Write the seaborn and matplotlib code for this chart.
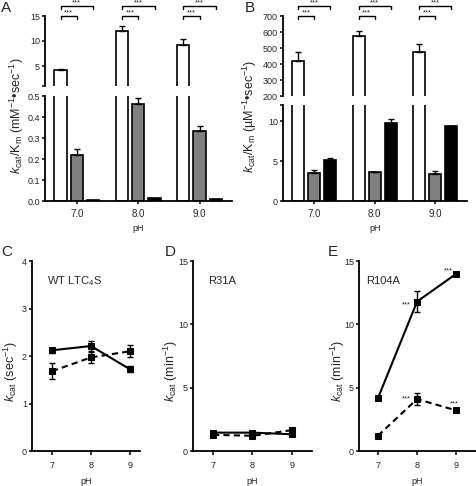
import numpy as np
import pandas as pd
import matplotlib
matplotlib.use("Agg")
import matplotlib.pyplot as plt
import seaborn as sns

# ---------------- data ----------------
ph_labels = ["7.0", "8.0", "9.0"]
enzymes = ["WT", "R31A", "R104A"]

A_wt = [4.1, 12.0, 9.25]
A_wt_err = [0.25, 1.0, 1.05]
A_r31a = [0.22, 0.46, 0.333]
A_r31a_err = [0.030, 0.032, 0.026]
A_r104a = [0.005, 0.016, 0.010]
A_r104a_err = [0.0, 0.0, 0.0]

B_wt = [420, 578, 478]
B_wt_err = [52, 30, 45]
B_r31a = [3.55, 3.63, 3.35]
B_r31a_err = [0.33, 0.05, 0.40]
B_r104a = [5.15, 9.7, 9.35]
B_r104a_err = [0.25, 0.6, 0.05]

ph = [7, 8, 9]
ph_ticks = ["7", "8", "9"]
C_solid = [2.12, 2.21, 1.72]
C_solid_err = [0.05, 0.11, 0.06]
C_dashed = [1.68, 1.97, 2.10]
C_dashed_err = [0.17, 0.12, 0.13]
D_solid = [1.45, 1.45, 1.32]
D_solid_err = [0.10, 0.10, 0.10]
D_dashed = [1.28, 1.20, 1.65]
D_dashed_err = [0.08, 0.08, 0.15]
E_solid = [4.15, 11.8, 14.0]
E_solid_err = [0.10, 0.80, 0.10]
E_dashed = [1.2, 4.1, 3.2]
E_dashed_err = [0.05, 0.45, 0.10]

# ---------------- style ----------------
sns.set_style("ticks")
plt.rcParams['font.family'] = ['Liberation Sans', 'DejaVu Sans']
plt.rcParams['mathtext.fontset'] = 'custom'
plt.rcParams['mathtext.rm'] = 'Liberation Sans'
plt.rcParams['mathtext.it'] = 'Liberation Sans:italic'
plt.rcParams['mathtext.bf'] = 'Liberation Sans:bold'

W, H = 477, 486
fig = plt.figure(figsize=(W / 100, H / 100), dpi=100)


def box(x0, y0, x1, y1):
    return [x0 / W, 1 - y1 / H, (x1 - x0) / W, (y1 - y0) / H]


def style(ax, bottom=True, ylab=6.5, xlab=7):
    for s in ['top', 'right']:
        ax.spines[s].set_visible(False)
    for s in ['left', 'bottom']:
        ax.spines[s].set_linewidth(1.3)
        ax.spines[s].set_color('black')
    ax.tick_params(axis='y', length=2.5, width=1.1, pad=1.2, labelsize=ylab, color='black')
    ax.tick_params(axis='x', length=2.5, width=1.1, pad=3.0, labelsize=xlab, color='black')
    if not bottom:
        ax.spines['bottom'].set_visible(False)
        ax.tick_params(axis='x', bottom=False, labelbottom=False)
    ax.set_facecolor('none')
    ax.grid(False)


pal = {"WT": "white", "R31A": "#808080", "R104A": "black"}


def bar_df(wt, r31, r104):
    return pd.DataFrame({'pH': ph_labels * 3,
                         'enzyme': np.repeat(enzymes, 3),
                         'value': list(wt) + list(r31) + list(r104)})


def draw_bars(ax, df, vals, errs):
    sns.barplot(data=df, x='pH', y='value', hue='enzyme', order=ph_labels,
                hue_order=enzymes, palette=pal, edgecolor='black', linewidth=1.2,
                width=0.8, gap=0.25, errorbar=None, legend=False, saturation=1, ax=ax)
    for j, (v, e) in enumerate(zip(vals, errs)):
        x = np.arange(3) + (j - 1) * 0.8 / 3
        if max(e) > 0:
            ax.errorbar(x, v, yerr=[np.zeros(3), e], fmt='none', ecolor='black',
                        elinewidth=1.0, capsize=2.2, capthick=1.0)
    ax.set_xlim(-0.52, 2.53)
    ax.set_xlabel('')
    ax.set_ylabel('')


def bracket(ax, i, j1, j2, y, leg):
    x1 = i + (j1 - 1) * 0.8 / 3
    x2 = i + (j2 - 1) * 0.8 / 3
    ax.plot([x1, x1, x2, x2], [y - leg, y, y, y - leg], color='black', lw=1.0, clip_on=False)
    ax.text((x1 + x2) / 2, y, '***', ha='center', va='bottom', fontsize=5.5, clip_on=False)


YLAB_FS = 9

# ---------------- Panel A ----------------
dfA = bar_df(A_wt, A_r31a, A_r104a)
valsA = [A_wt, A_r31a, A_r104a]
errsA = [A_wt_err, A_r31a_err, A_r104a_err]
axA_up = fig.add_axes(box(45, 16, 232, 86))
axA_lo = fig.add_axes(box(45, 96, 232, 201))
for ax in (axA_up, axA_lo):
    draw_bars(ax, dfA, valsA, errsA)
axA_up.set_ylim(1, 15)
axA_up.set_yticks([1, 5, 10, 15])
axA_up.set_yticklabels(['', '5', '10', '15'])
style(axA_up, bottom=False)
axA_lo.set_ylim(0, 0.5)
axA_lo.set_yticks([0, 0.1, 0.2, 0.3, 0.4, 0.5])
axA_lo.set_yticklabels(['0.0', '0.1', '0.2', '0.3', '0.4', '0.5'])
style(axA_lo)
axA_lo.set_xlabel('pH', fontsize=6.5, labelpad=4)
for i in range(3):
    bracket(axA_up, i, 0, 1, 15, 0.6)
    bracket(axA_up, i, 0, 2, 17, 0.6)
fig.text(17 / W, 1 - 116 / H, r'$k_{\mathrm{cat}}$/K$_{\mathrm{m}}$ (mM$^{-1}$•sec$^{-1}$)',
         rotation=90, ha='center', va='center', fontsize=YLAB_FS)

# ---------------- Panel B ----------------
dfB = bar_df(B_wt, B_r31a, B_r104a)
valsB = [B_wt, B_r31a, B_r104a]
errsB = [B_wt_err, B_r31a_err, B_r104a_err]
axB_up = fig.add_axes(box(283, 16, 467, 96))
axB_lo = fig.add_axes(box(283, 105, 467, 201))
for ax in (axB_up, axB_lo):
    draw_bars(ax, dfB, valsB, errsB)
axB_up.set_ylim(200, 700)
axB_up.set_yticks([200, 300, 400, 500, 600, 700])
style(axB_up, bottom=False)
axB_lo.set_ylim(0, 12)
axB_lo.set_yticks([0, 5, 10, 12])
axB_lo.set_yticklabels(['0', '5', '10', ''])
style(axB_lo)
axB_lo.set_xlabel('pH', fontsize=6.5, labelpad=4)
for i in range(3):
    bracket(axB_up, i, 0, 1, 700, 19)
    bracket(axB_up, i, 0, 2, 762, 19)
fig.text(250 / W, 1 - 116 / H, r'$k_{\mathrm{cat}}$/K$_{\mathrm{m}}$ (µM$^{-1}$•sec$^{-1}$)',
         rotation=90, ha='center', va='center', fontsize=YLAB_FS)


# ---------------- Panels C, D, E ----------------
def line_panel(ax, solid, solid_err, dashed, dashed_err):
    sns.lineplot(x=ph, y=solid, ax=ax, color='black', marker='s', markersize=5,
                 markeredgecolor='black', linewidth=1.5, linestyle='-')
    sns.lineplot(x=ph, y=dashed, ax=ax, color='black', marker='s', markersize=5,
                 markeredgecolor='black', linewidth=1.5, linestyle=(0, (3, 2)))
    ax.errorbar(ph, solid, yerr=solid_err, fmt='none', ecolor='black', elinewidth=1.0,
                capsize=2.5, capthick=1.0)
    ax.errorbar(ph, dashed, yerr=dashed_err, fmt='none', ecolor='black', elinewidth=1.0,
                capsize=2.5, capthick=1.0)
    ax.set_xticks(ph)
    ax.set_xticklabels(ph_ticks)
    style(ax, xlab=6.5)
    ax.tick_params(axis='x', length=3, pad=4)
    ax.set_xlabel('pH', fontsize=6.5, labelpad=5)
    ax.set_ylabel('')


axC = fig.add_axes(box(32, 261, 140, 451))
line_panel(axC, C_solid, C_solid_err, C_dashed, C_dashed_err)
axC.set_ylim(0, 4)
axC.set_yticks([0, 1, 2, 3, 4])
axC.set_xlim(6.487, 9.256)
fig.text(11 / W, 1 - 371 / H, r'$k_{\mathrm{cat}}$ (sec$^{-1}$)', rotation=90,
         ha='center', va='center', fontsize=YLAB_FS)
fig.text(47 / W, 1 - 281 / H, r'WT LTC$_{4}$S', ha='left', va='center', fontsize=8)

axD = fig.add_axes(box(193, 261, 312, 451))
line_panel(axD, D_solid, D_solid_err, D_dashed, D_dashed_err)
axD.set_ylim(0, 15)
axD.set_yticks([0, 5, 10, 15])
axD.set_xlim(6.494, 9.506)
fig.text(171 / W, 1 - 371 / H, r'$k_{\mathrm{cat}}$ (min$^{-1}$)', rotation=90,
         ha='center', va='center', fontsize=YLAB_FS)
fig.text(208 / W, 1 - 281 / H, 'R31A', ha='left', va='center', fontsize=8)

axE = fig.add_axes(box(359, 261, 476, 451))
line_panel(axE, E_solid, E_solid_err, E_dashed, E_dashed_err)
axE.set_ylim(0, 15)
axE.set_yticks([0, 5, 10, 15])
axE.set_xlim(6.52, 9.5)
fig.text(338 / W, 1 - 371 / H, r'$k_{\mathrm{cat}}$ (min$^{-1}$)', rotation=90,
         ha='center', va='center', fontsize=YLAB_FS)
fig.text(366 / W, 1 - 281 / H, 'R104A', ha='left', va='center', fontsize=8)
for (sx, sy) in [(7.73, 11.8), (8.8, 14.45), (7.73, 4.37), (8.95, 3.95)]:
    axE.text(sx, sy - 0.35, '***', ha='center', va='baseline', fontsize=5.5)

# ---------------- panel letters ----------------
for letter, (lx, ly) in {'A': (1, 8), 'B': (245, 8), 'C': (1, 252),
                         'D': (165, 252), 'E': (328, 252)}.items():
    fig.text(lx / W, 1 - ly / H, letter, ha='left', va='center', fontsize=11)

fig.savefig('out.png', dpi=100)
